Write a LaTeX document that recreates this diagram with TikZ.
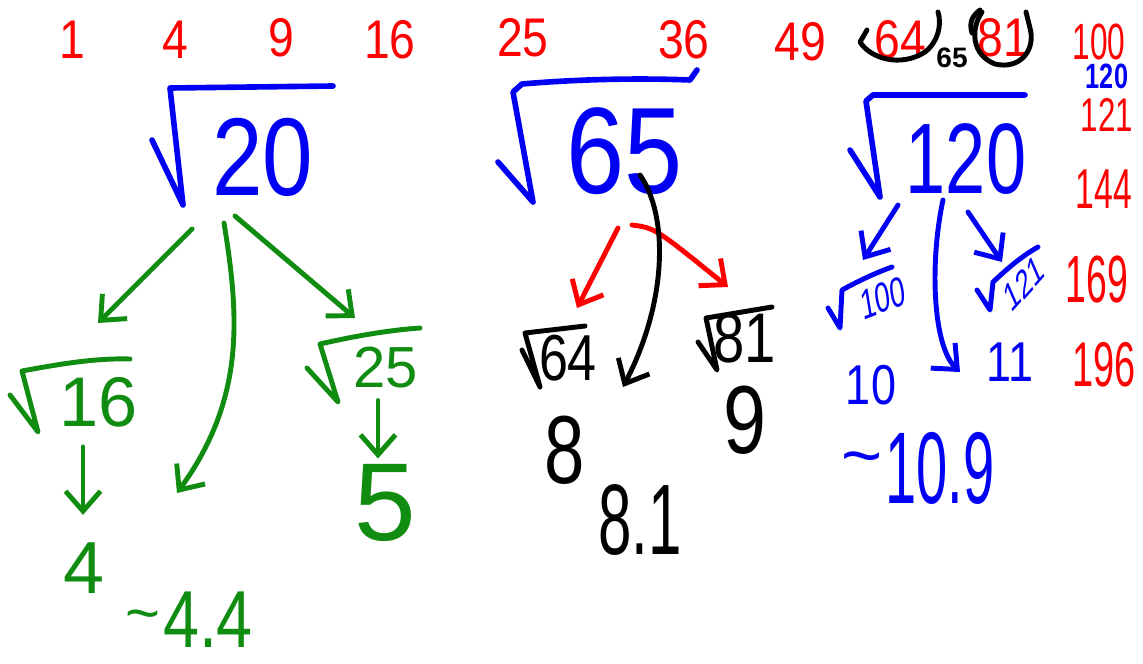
\documentclass[tikz,border=0pt]{standalone}
\usepackage{fontspec}
\setmainfont{Liberation Sans}
\usetikzlibrary{arrows.meta}
\definecolor{inkred}{RGB}{255,0,0}
\definecolor{inkblue}{RGB}{0,0,245}
\definecolor{inkgreen}{RGB}{16,140,16}
\definecolor{inkblack}{RGB}{0,0,0}
\newcommand\hwsize[1]{\fontsize{#1}{#1}\selectfont}
\tikzset{
  ink/.style={line width=2.8pt, line cap=round, line join=round},
  radix/.style={ink, line width=3.2pt},
  tipped/.style={ink, -{Straight Barb[length=4mm,width=7mm]}},
  lbl/.style={inner sep=0pt, outer sep=0pt},
}
\begin{document}
\begin{tikzpicture}[x=0.02cm,y=-0.02cm]
\fill[white] (0,0) rectangle (1143,663);
\useasboundingbox (0,0) rectangle (1143,663);

% ---------- top row of squares ----------
\begin{scope}[every node/.style={lbl, inkred, font=\hwsize{31}, xscale=0.85}]
\node (s1)  at (72,40)  {1};
\node (s4)  at (175,40) {4};
\node (s9)  at (281,38) {9};
\node (s16) at (390,40) {16};
\node (s25) at (523,38) {25};
\node (s36) at (684,40) {36};
\node (s49) at (800,42) {49};
\node (s64) at (900,40) {64};
\node (s81) at (1003,38) {81};
\end{scope}
\begin{scope}[every node/.style={lbl, inkred}]
\node[font=\hwsize{29}, xscale=0.62] (s100) at (1099,42) {100};
\node[font=\hwsize{27}, xscale=0.66] (s121) at (1107,115) {121};
\node[font=\hwsize{32}, xscale=0.6] (s144) at (1104,189) {144};
\node[font=\hwsize{38}, xscale=0.56] (s169) at (1097,280) {169};
\node[font=\hwsize{36}, xscale=0.6] (s196) at (1104,365) {196};
\end{scope}
\node[lbl, inkblue, font=\hwsize{20}\bfseries, xscale=0.72] (s120) at (1107,76) {120};
\node[lbl, inkblack, font=\hwsize{16}\bfseries] (s65) at (952,58) {65};
% circles round 64 and 81
\draw[ink, inkblack] (867,30) -- (860,42) .. controls (870,58) and (900,68) .. (925,52) .. controls (938,42) and (942,25) .. (938,12);
\draw[ink, inkblack] (972,33) .. controls (968,20) and (975,14) .. (980,10);
\draw[ink, inkblack] (982,12) .. controls (970,30) and (972,55) .. (995,64) .. controls (1020,70) and (1036,50) .. (1030,28) -- (1026,12);

% ---------- sqrt 20 (left) ----------
\node[lbl, inkblue, font=\hwsize{63}, xscale=0.82] (n20) at (263,157) {20};
\draw[radix, inkblue] (152,140) -- (183,205) -- (170,88) -- (333,86);
\coordinate (gLa) at (192,229); \coordinate (gLb) at (98,323);
\coordinate (gMa) at (224,223); \coordinate (gMb) at (177,493);
\coordinate (gRa) at (235,216); \coordinate (gRb) at (355,318);
\draw[tipped, inkgreen] (gLa) -- (gLb);
\draw[tipped, inkgreen] (gMa) .. controls (240,320) and (244,400) .. (gMb);
\draw[tipped, inkgreen] (gRa) -- (gRb);

\node[lbl, inkgreen, font=\hwsize{40}] (n16) at (99,402) {16};
\draw[ink, inkgreen] (10,395) -- (38,432) -- (22,371) .. controls (60,364) and (95,358) .. (130,359);
\node[lbl, inkgreen, font=\hwsize{33}] (n25) at (386,368) {25};
\draw[ink, inkgreen] (307,368) -- (338,402) -- (320,344) .. controls (355,336) and (390,330) .. (420,328);
\draw[tipped, inkgreen] (n16.south) ++(-16,20) coordinate (g16a) -- ++(0,68) coordinate (g16b);
\draw[tipped, inkgreen] (n25.south) ++(-8,12) coordinate (g25a) -- ++(0,58) coordinate (g25b);
\node[lbl, inkgreen, font=\hwsize{42}] (n4) at (84,568) {4};
\node[lbl, inkgreen, font=\hwsize{63}] (n5) at (385,503) {5};
\node[lbl, inkgreen, font=\hwsize{34}] (tl1) at (143,622) {\textasciitilde};
\node[lbl, inkgreen, font=\hwsize{46}, xscale=0.8] (n44) at (208,620) {4.4};

% ---------- sqrt 65 (middle) ----------
\node[lbl, inkblue, font=\hwsize{70}, xscale=0.85] (n65) at (625,151) {65};
\draw[radix, inkblue] (498,162) -- (533,202) -- (513,92) -- (522,84) .. controls (580,79) and (640,78) .. (690,80) -- (697,70);
\coordinate (rLa) at (618,228); \coordinate (rLb) at (577,308);
\coordinate (rRa) at (632,225); \coordinate (rRb) at (728,287);
\coordinate (kA) at (640,175);  \coordinate (kB) at (623,387);
\draw[tipped, inkred] (rLa) -- (rLb);
\draw[tipped, inkred] (rRa) .. controls (655,228) .. (rRb);
\draw[tipped, inkblack] (kA) .. controls (668,215) and (668,300) .. (kB);

\node[lbl, inkblack, font=\hwsize{37}, xscale=0.8] (n64) at (568,358) {64};
\draw[ink, inkblack] (522,350) -- (540,387) -- (525,333) -- (585,326);
\node[lbl, inkblack, font=\hwsize{40}, xscale=0.8] (n81) at (745,338) {81};
\draw[ink, inkblack] (698,342) -- (717,370) -- (706,318) -- (772,307);
\node[lbl, inkblack, font=\hwsize{55}, xscale=0.75] (n8) at (565,450) {8};
\node[lbl, inkblack, font=\hwsize{55}, xscale=0.8] (n9) at (745,420) {9};
\node[lbl, inkblack, font=\hwsize{57}, xscale=0.6] (n81b) at (640,520) {8.1};

% ---------- sqrt 120 (right) ----------
\node[lbl, inkblue, font=\hwsize{57}, xscale=0.72] (n120) at (966,159) {120};
\draw[radix, inkblue] (850,150) -- (880,197) -- (866,101) -- (873,95) -- (1025,95);
\coordinate (bLa) at (898,205); \coordinate (bLb) at (863,260);
\coordinate (bMa) at (943,200); \coordinate (bMb) at (960,372);
\coordinate (bRa) at (968,212); \coordinate (bRb) at (1002,262);
\draw[tipped, inkblue] (bLa) -- (bLb);
\draw[tipped, inkblue] (bMa) .. controls (930,260) and (932,345) .. (bMb);
\draw[tipped, inkblue] (bRa) -- (bRb);

\node[lbl, inkblue, font=\hwsize{24}, xscale=0.65, rotate=14] (n100) at (883,298) {100};
\draw[ink, inkblue] (828,308) -- (840,328) -- (842,290) .. controls (860,280) and (878,272) .. (892,267);
\node[lbl, inkblue, font=\hwsize{23}, xscale=0.62, rotate=35] (n121) at (1024,283) {121};
\draw[ink, inkblue] (977,290) -- (990,310) -- (993,282) .. controls (1008,268) and (1022,256) .. (1038,247);
\node[lbl, inkblue, font=\hwsize{32}, xscale=0.8] (n10) at (871,385) {10};
\node[lbl, inkblue, font=\hwsize{32}, xscale=0.8] (n11) at (1010,362) {11};
\node[lbl, inkblue, font=\hwsize{40}] (tl2) at (862,466) {\textasciitilde};
\node[lbl, inkblue, font=\hwsize{58}, xscale=0.55] (n109) at (940,468) {10.9};
\end{tikzpicture}
\end{document}
